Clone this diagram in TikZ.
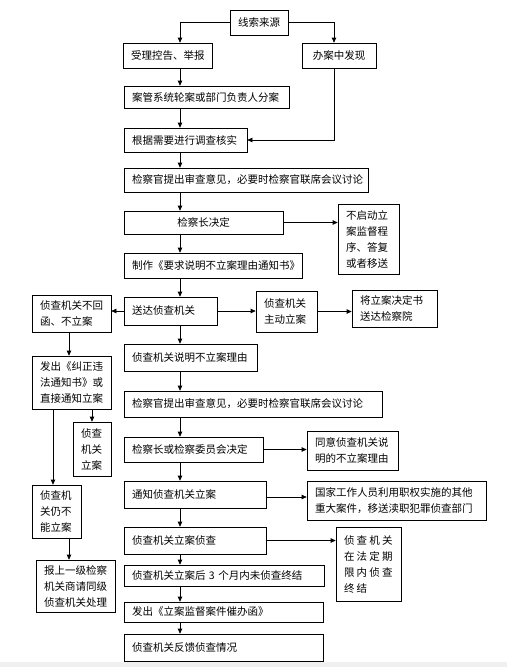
\documentclass[tikz,border=0pt]{standalone}
\usepackage{fontspec}
\newfontfamily\cjk{Noto Sans CJK SC}
\usetikzlibrary{arrows.meta,calc}
\tikzset{
  bx/.style={draw, line width=0.7pt, inner xsep=8pt, inner ysep=0pt, align=left,
    font=\cjk\fontsize{10.5}{16}\selectfont},
  arr/.style={draw, line width=0.7pt, -{Triangle[length=5pt,width=4.5pt]}},
}
\newcommand\mkbox[7][]{%
  \pgfmathsetmacro\mbw{#5-#3}\pgfmathsetmacro\mbh{#6-#4}%
  \pgfmathsetmacro\mbx{(#3+#5)/2}\pgfmathsetmacro\mby{(#4+#6)/2}%
  \pgfmathsetmacro\mtw{\mbw-16}%
  \node[bx,minimum width=\mbw pt,minimum height=\mbh pt,text width=\mtw pt,#1] (#2) at (\mbx,\mby) {#7};}
\newcommand\cjsp{\hspace{2.2pt}}
\begin{document}
\begin{tikzpicture}[x=1pt,y=-1pt]
\useasboundingbox (0,0) rectangle (507,667);
\fill[black!6] (0,662) rectangle (507,667);
\coordinate (mx) at (180,0);
\coordinate (rx) at (334,0);
\coordinate (kx) at (69,0);
\coordinate (lx) at (53,0);
\coordinate (vy) at (0,497);

\mkbox[align=center]{A}{230}{10}{288}{35}{线索来源}
\mkbox[align=center]{B}{123}{43}{212}{68}{受理控告、举报}
\mkbox[align=center]{C}{302}{43}{376}{68}{办案中发现}
\mkbox{D}{124}{86}{289}{108}{案管系统轮案或部门负责人分案}
\mkbox{E}{124}{128}{247}{152}{根据需要进行调查核实}
\mkbox{F}{124}{168}{368}{192}{检察官提出审查意见，必要时检察官联席会议讨论}
\mkbox[align=center]{G}{124}{211}{283}{234}{检察长决定}
\mkbox{H}{338}{204}{399}{274}{不启动立\\案监督程\\序、答复\\或者移送}
\mkbox{I}{124}{253}{302}{278}{制作《要求说明不立案理由通知书》}
\mkbox{J}{124}{297}{217}{325}{送达侦查机关}
\mkbox{K}{32}{295}{111}{332}{侦查机关不回\\函、不立案}
\mkbox{L}{256}{291}{317}{332}{侦查机关\\主动立案}
\mkbox{M}{352}{290}{437}{327}{将立案决定书\\送达检察院}
\mkbox{N}{124}{344}{257}{371}{侦查机关说明不立案理由}
\mkbox{O}{124}{391}{382}{417}{检察官提出审查意见，必要时检察官联席会议讨论}
\mkbox{P}{32}{356}{111}{409}{发出《纠正违\\法通知书》或\\直接通知立案}
\mkbox{Q}{73}{422}{111}{476}{侦查\\机关\\立案}
\mkbox{R}{32}{485}{81}{538}{侦查机\\关仍不\\能立案}
\mkbox{S}{36}{560}{115}{612}{报上一级检察\\机关商请同级\\侦查机关处理}
\mkbox{T}{124}{437}{263}{462}{检察长或检察委员会决定}
\mkbox{U}{307}{431}{398}{470}{同意侦查机关说\\明的不立案理由}
\mkbox{V}{124}{481}{266}{508}{通知侦查机关立案}
\mkbox{W}{307}{481}{486}{520}{国家工作人员利用职权实施的其他\\重大案件，移送渎职犯罪侦查部门}
\mkbox{X}{124}{527}{266}{554}{侦查机关立案侦查}
\mkbox{Y}{336}{527}{401}{601}{侦\cjsp 查\cjsp 机\cjsp 关\\在\cjsp 法\cjsp 定\cjsp 期\\限\cjsp 内\cjsp 侦\cjsp 查\\终\cjsp 结}
\mkbox{Z}{124}{565}{324}{586}{侦查机关立案后 3 个月内未侦查终结}
\mkbox{AA}{124}{602}{323}{622}{发出《立案监督案件催办函》}
\mkbox{AB}{124}{634}{323}{661}{侦查机关反馈侦查情况}

% top branches
\draw[arr] (A.west) -| (B.north -| mx);
\draw[arr] (A.east) -| (C.north -| rx);
\draw[arr] (C.south -| rx) |- (E.east);
% main column
\foreach \a/\b in {B/D,D/E,E/F,F/G,G/I,I/J,J/N,N/O,O/T,T/V,V/X,X/Z,Z/AA,AA/AB}
  \draw[arr] (\a.south -| mx) -- (\b.north -| mx);
% side arrows
\draw[arr] (G.east) -- (H.west |- G.east);
\draw[arr] (J.west) -- (K.east |- J.west);
\draw[arr] (J.east) -- (L.west |- J.east);
\draw[arr] (L.east) -- (M.west |- L.east);
\draw[arr] (T.east) -- (U.west |- T.east);
\draw[arr] (V.east |- vy) -- (W.west |- vy);
\draw[arr] (X.east) -- (Y.west |- X.east);
% left column
\draw[arr] (K.south -| kx) -- (P.north -| kx);
\draw[arr] (P.south -| Q.north) -- (Q.north);
\draw[arr] (P.south -| lx) -- (R.north -| lx);
\draw[arr] (R.south -| kx) -- (S.north -| kx);
\end{tikzpicture}
\end{document}
